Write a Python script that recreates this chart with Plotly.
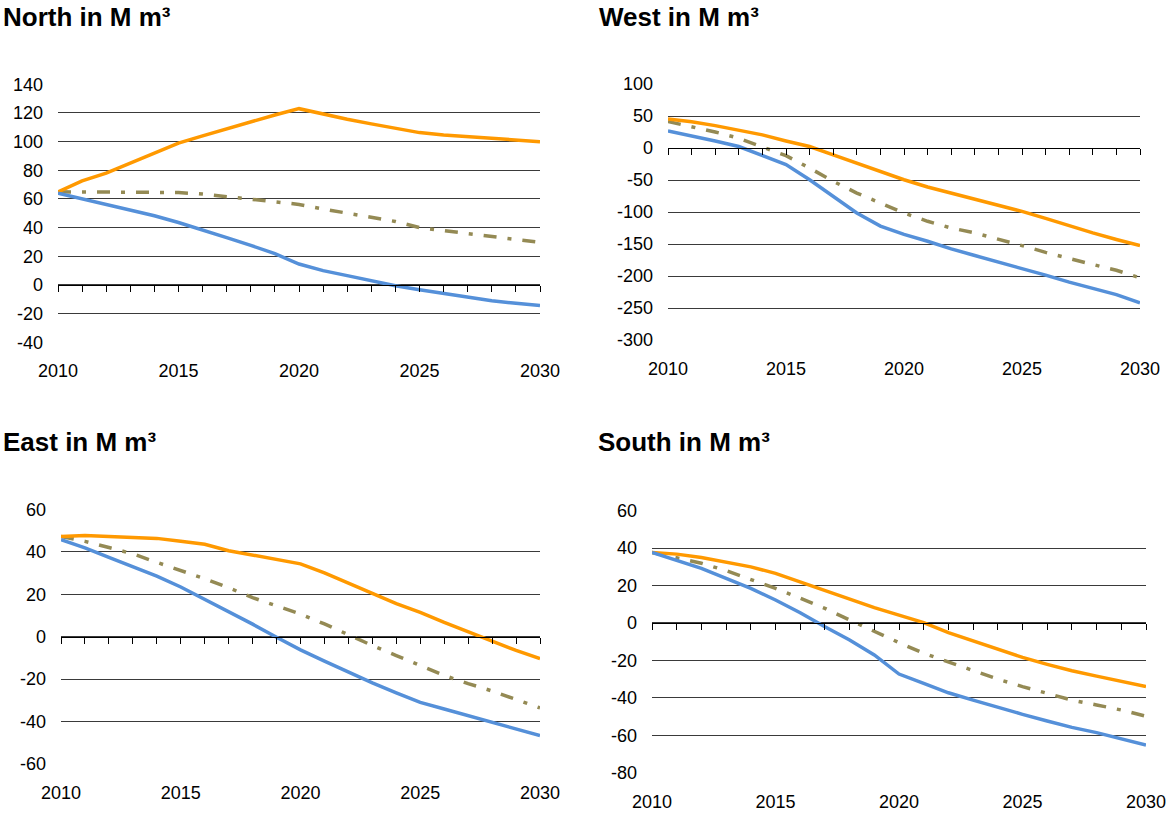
import plotly.graph_objects as go

years = list(range(2010, 2031))

# North
north_upper = [65, 72.6, 78, 85, 92, 99, 104, 109, 114, 118.6, 123, 119, 115.6, 112.4, 109.3, 106.3, 104.7, 103.5, 102, 101, 100]
north_lower = [64, 60, 56, 52, 48.3, 43.6, 38.5, 33, 27.6, 21.8, 14.6, 10, 6.5, 3, -0.5, -3.3, -6, -8.6, -11, -12.8, -14.4]
north_mid = [65, 65, 65, 65, 65, 64.5, 63.4, 61.7, 60, 58.3, 56.2, 53, 50, 47.3, 44.3, 40, 38, 35.5, 33.6, 31.5, 29.7]

# West
west_upper = [45.5, 41, 35, 28, 20.5, 11, 2.3, -10.6, -23.6, -37.7, -49.6, -61, -70.4, -79.7, -89.6, -99, -110, -122, -132.7, -143, -152.5]
west_lower = [26.8, 19.5, 11, 2.3, -12, -26, -49.6, -75.6, -101.6, -122, -135, -145.7, -157.7, -168, -178, -188, -198.7, -209.6, -219.5, -229, -241.8]
west_mid = [41.3, 33.5, 25, 15.3, 2.3, -12, -31.4, -52, -70.4, -86, -101.6, -114.5, -125, -132.7, -142, -152.5, -163, -173, -182, -191, -203]

# East
east_upper = [47.2, 47.7, 47.2, 46.9, 46.3, 45, 43.5, 40.5, 38.5, 36.3, 34.3, 30, 25, 20.4, 15.6, 11.4, 6.7, 2.3, -1.9, -6.5, -10.4]
east_lower = [45.7, 41.8, 37.4, 32.9, 28.5, 23.4, 17.6, 11.8, 5.9, -0.3, -6.2, -11.5, -16.7, -21.8, -26.5, -31, -34.1, -37.2, -40.4, -43.6, -46.6]
east_mid = [47.2, 44.9, 42, 39, 35, 31.3, 27.3, 23, 18.4, 14.5, 10.6, 6, 0.8, -4.2, -8.9, -13.6, -18.3, -22.1, -25.6, -29.6, -33.6]

# South
south_upper = [37.7, 36.8, 35, 32.7, 30, 26.5, 22, 17.2, 12.8, 8.2, 4.2, 0.2, -5.2, -9.6, -13.9, -18.4, -22.1, -25.5, -28.4, -31.2, -34]
south_lower = [37.7, 33.6, 29.2, 23.8, 18.5, 12.3, 5.5, -2, -9.1, -17.1, -27.3, -32.3, -37.3, -41.2, -45.1, -48.8, -52.4, -55.8, -58.6, -61.7, -65.2]
south_mid = [37.7, 35, 31.9, 28, 23.3, 18.5, 13.2, 7.8, 1.6, -4.7, -10.5, -16.2, -20.7, -25.5, -30, -34, -37.6, -41.2, -43.8, -46.5, -49.8]

titles = ["North in M m³", "West in M m³", "East in M m³", "South in M m³"]
x_ticks = [2010, 2015, 2020, 2025, 2030]
north_yticks = [-40, -20, 0, 20, 40, 60, 80, 100, 120, 140]
west_yticks = [-300, -250, -200, -150, -100, -50, 0, 50, 100]
east_yticks = [-60, -40, -20, 0, 20, 40, 60]
south_yticks = [-80, -60, -40, -20, 0, 20, 40, 60]

W, H = 1168, 814
FONT = "Arial, Liberation Sans, sans-serif"
ORANGE = "#FF9900"
BLUE = "#5590D9"
OLIVE = "#948A54"

# panel boxes in pixels: left, right, top, bottom ; title pos
panels = [
    dict(data=(north_upper, north_lower, north_mid), yt=north_yticks, box=(58, 540, 84.3, 342.3), tpos=(1, 0)),
    dict(data=(west_upper, west_lower, west_mid), yt=west_yticks, box=(668, 1140, 84, 340), tpos=(597, 0)),
    dict(data=(east_upper, east_lower, east_mid), yt=east_yticks, box=(61, 540, 509.3, 764), tpos=(1, 425)),
    dict(data=(south_upper, south_lower, south_mid), yt=south_yticks, box=(652, 1146, 510.7, 772.7), tpos=(596, 425)),
]

fig = go.Figure()
layout = dict(width=W, height=H, margin=dict(l=0, r=0, t=0, b=0, pad=0, autoexpand=False),
              plot_bgcolor="white", paper_bgcolor="white", showlegend=False,
              font=dict(family=FONT, size=18, color="black"))
annotations = []

for i, p in enumerate(panels):
    n = i + 1
    xa = "x" if n == 1 else "x%d" % n
    ya = "y" if n == 1 else "y%d" % n
    ov = "x%d" % (n + 4)
    l, r, t, b = p["box"]
    xdom = [l / W, r / W]
    ydom = [1 - b / H, 1 - t / H]
    yt = p["yt"]
    y0, y1 = yt[0], yt[-1]
    zero_pos = ydom[0] + (0 - y0) / (y1 - y0) * (ydom[1] - ydom[0])

    upper, lower, mid = p["data"]
    fig.add_trace(go.Scatter(x=years, y=mid, mode="lines", xaxis=xa, yaxis=ya,
                             line=dict(color=OLIVE, width=3.5, dash="13px,11px,4px,11px")))
    fig.add_trace(go.Scatter(x=years, y=upper, mode="lines", xaxis=xa, yaxis=ya,
                             line=dict(color=ORANGE, width=3.5)))
    fig.add_trace(go.Scatter(x=years, y=lower, mode="lines", xaxis=xa, yaxis=ya,
                             line=dict(color=BLUE, width=3.5)))
    # empty trace so the zero-line axis gets drawn
    fig.add_trace(go.Scatter(x=[], y=[], xaxis=ov, yaxis=ya, hoverinfo="skip"))

    layout["xaxis" if n == 1 else "xaxis%d" % n] = dict(
        domain=xdom, anchor=ya, range=[2010, 2030], tickvals=x_ticks,
        ticktext=[str(v) for v in x_ticks], automargin=False,
        showgrid=False, zeroline=False, showline=False, ticks="",
        ticklabelstandoff=16, fixedrange=True)
    layout["xaxis%d" % (n + 4)] = dict(
        domain=xdom, overlaying=xa, anchor="free", position=zero_pos,
        range=[2010, 2030], dtick=1, tick0=2010, showticklabels=False,
        showgrid=False, zeroline=False, showline=True, linecolor="black",
        linewidth=1, ticks="outside", ticklen=6, tickcolor="black", tickwidth=1,
        automargin=False)
    layout["yaxis" if n == 1 else "yaxis%d" % n] = dict(
        domain=ydom, anchor=xa, range=[y0, y1], tickvals=yt,
        ticktext=[str(v) for v in yt], automargin=False,
        showgrid=True, gridcolor="#3a3a3a", gridwidth=1, zeroline=False,
        showline=False, ticks="", ticklabelstandoff=14, fixedrange=True)

    tx, ty = p["tpos"]
    annotations.append(dict(text="<b>%s</b>" % titles[i], xref="paper", yref="paper",
                            x=tx / W, y=1 - ty / H, xanchor="left", yanchor="top",
                            showarrow=False, font=dict(family=FONT, size=26, color="black")))

layout["annotations"] = annotations
fig.update_layout(**layout)
# page body has an 8px default margin; drop it so the figure fills the window
fig.write_html("out.html", config={"displayModeBar": False},
               post_script="document.body.style.margin='0';document.body.style.overflow='hidden';")
